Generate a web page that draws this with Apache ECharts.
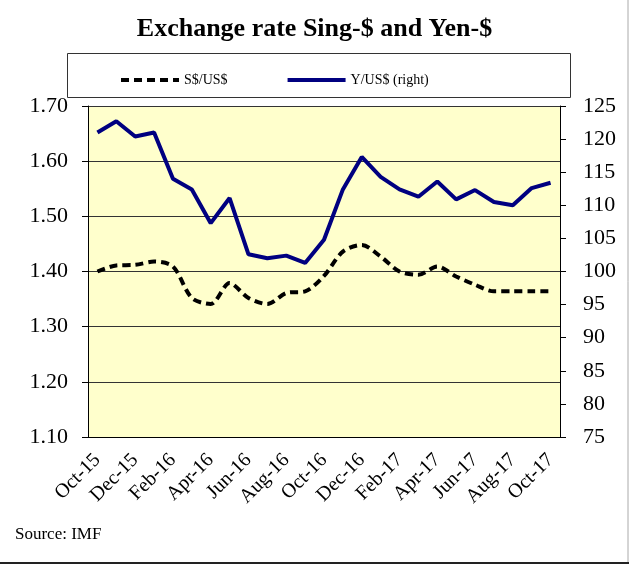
<!DOCTYPE html>
<html>
<head>
<meta charset="utf-8">
<script src="https://cdn.jsdelivr.net/npm/echarts@6/dist/echarts.min.js"></script>
<style>
  html, body { margin: 0; padding: 0; background: #fff; }
  #main { width: 629px; height: 568px; }
</style>
</head>
<body>
<div id="main"></div>
<script>
// months Oct-15 .. Oct-17
var months = ['Oct-15','Nov-15','Dec-15','Jan-16','Feb-16','Mar-16','Apr-16','May-16','Jun-16','Jul-16','Aug-16','Sep-16',
              'Oct-16','Nov-16','Dec-16','Jan-17','Feb-17','Mar-17','Apr-17','May-17','Jun-17','Jul-17','Aug-17','Sep-17','Oct-17'];
// S$/US$ (left axis)
var sgdUsd = [1.400, 1.411, 1.412, 1.418, 1.409, 1.352, 1.341, 1.379, 1.352, 1.341, 1.361, 1.364,
              1.392, 1.436, 1.448, 1.427, 1.400, 1.394, 1.409, 1.391, 1.376, 1.364, 1.364, 1.364, 1.364];
// Y/US$ (right axis)
var yenUsd = [121.0, 122.7, 120.4, 121.0, 114.0, 112.4, 107.3, 111.1, 102.6, 102.0, 102.4, 101.3,
              104.8, 112.4, 117.3, 114.3, 112.4, 111.3, 113.6, 110.9, 112.3, 110.5, 110.0, 112.6, 113.4];

var serif = '"Liberation Serif", "DejaVu Serif", serif';

var chart = echarts.init(document.getElementById('main'));
chart.setOption({
    animation: false,
    backgroundColor: '#fff',
    title: {
        text: 'Exchange rate Sing-$ and Yen-$',
        left: 'center',
        top: 11,
        textStyle: { fontFamily: serif, fontSize: 26, fontWeight: 'bold', color: '#000' }
    },
    legend: {
        top: 68,
        left: 114,
        itemWidth: 58,
        itemHeight: 10,
        itemGap: 58,
        itemStyle: { opacity: 0 },
        lineStyle: { width: 4 },
        textStyle: { fontFamily: serif, fontSize: 14, color: '#000' },
        data: ['S$/US$', 'Y/US$ (right)']
    },
    grid: {
        left: 88,
        right: 69,
        top: 106,
        bottom: 131,
        show: true,
        backgroundColor: '#ffffcc',
        borderWidth: 0
    },
    xAxis: {
        type: 'category',
        data: months,
        boundaryGap: true,
        axisLine: { lineStyle: { color: '#000', width: 1 } },
        axisTick: { show: false },
        axisLabel: {
            interval: 1,
            rotate: 45,
            margin: 20,
            fontFamily: serif,
            fontSize: 20,
            color: '#000'
        }
    },
    yAxis: [
        {
            type: 'value',
            min: 1.1,
            max: 1.7,
            interval: 0.1,
            position: 'left',
            axisLine: { show: true, lineStyle: { color: '#000' } },
            axisTick: { show: true, inside: false, length: 6, lineStyle: { color: '#000' } },
            axisLabel: {
                margin: 20,
                fontFamily: serif,
                fontSize: 22,
                color: '#000',
                formatter: function (v) { return v.toFixed(2); }
            },
            splitLine: { show: true, lineStyle: { color: '#333', width: 1 } }
        },
        {
            type: 'value',
            min: 75,
            max: 125,
            interval: 5,
            position: 'right',
            axisLine: { show: true, lineStyle: { color: '#000' } },
            axisTick: { show: true, inside: false, length: 6, lineStyle: { color: '#000' } },
            axisLabel: {
                margin: 23,
                fontFamily: serif,
                fontSize: 22,
                color: '#000'
            },
            splitLine: { show: false }
        }
    ],
    series: [
        {
            name: 'S$/US$',
            type: 'line',
            yAxisIndex: 0,
            data: sgdUsd,
            smooth: 0.3,
            symbol: 'none',
            lineStyle: { color: '#000', width: 4, type: [8, 5] },
            itemStyle: { color: '#000' }
        },
        {
            name: 'Y/US$ (right)',
            type: 'line',
            yAxisIndex: 1,
            data: yenUsd,
            symbol: 'none',
            lineStyle: { color: '#000080', width: 4 },
            itemStyle: { color: '#000080' }
        }
    ],
    graphic: [
        {
            type: 'rect',
            shape: { x: 67.5, y: 53.5, width: 503, height: 44 },
            style: { fill: 'none', stroke: '#333', lineWidth: 1 },
            z: 0
        },
        {
            type: 'text',
            left: 15,
            top: 526,
            style: { text: 'Source: IMF', font: '17px ' + serif, fill: '#000' }
        },
        {
            type: 'line',
            shape: { x1: 628, y1: 0, x2: 628, y2: 563 },
            style: { stroke: '#aaa', lineWidth: 1 }
        },
        {
            type: 'line',
            shape: { x1: 0, y1: 563, x2: 629, y2: 563 },
            style: { stroke: '#222', lineWidth: 2 }
        }
    ]
});
</script>
</body>
</html>
